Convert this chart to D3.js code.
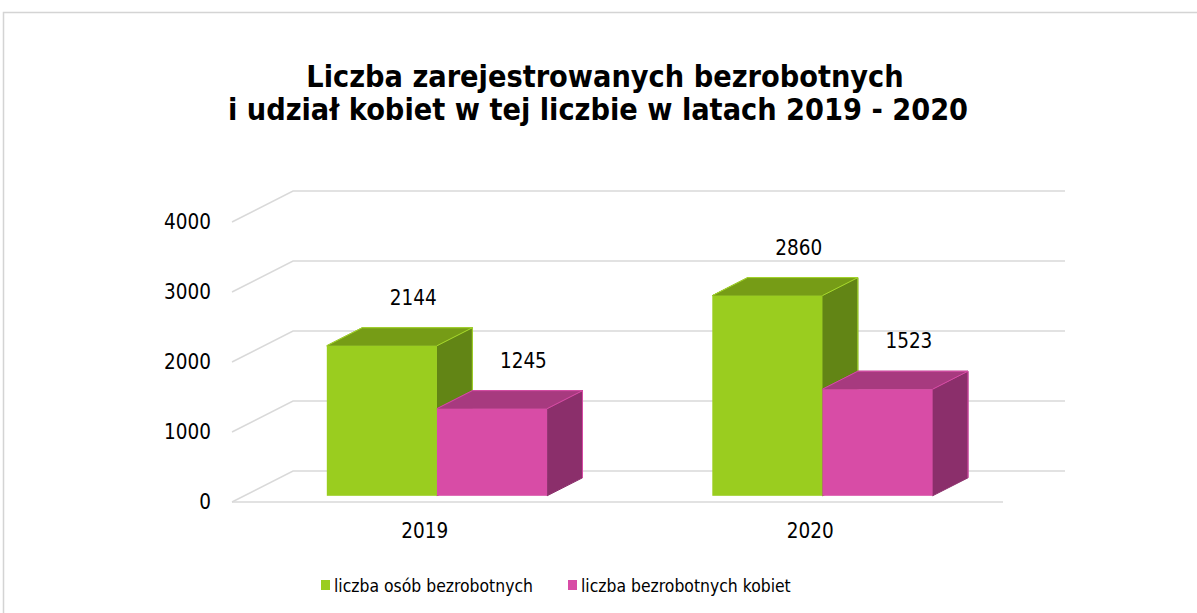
<!DOCTYPE html>
<html>
<head>
<meta charset="utf-8">
<script src="https://cdn.jsdelivr.net/npm/d3@7"></script>
<style>
  body { margin: 0; background: #fff; }
  text { font-family: "DejaVu Sans Condensed", "DejaVu Sans", sans-serif; fill: #000; }
</style>
</head>
<body>
<svg id="chart" width="1197" height="613"></svg>
<script>
// data
var years = ['2019', '2020'];
var seriesNames = ['liczba osób bezrobotnych', 'liczba bezrobotnych kobiet'];
var totalValues = [2144, 2860];
var womenValues = [1245, 1523];
var yTicks = [0, 1000, 2000, 3000, 4000];
var titleLines = ['Liczba zarejestrowanych bezrobotnych', 'i udział kobiet w tej liczbie w latach 2019 - 2020'];

var colors = [
  {front: '#9acd1f', top: '#769c16', side: '#628515', edge: '#a6d82c'},
  {front: '#d84ca6', top: '#a73a7f', side: '#8b2f6b', edge: '#d84ca6'}
];

var svg = d3.select('#chart');

// outer border of the chart area
svg.append('rect')
  .attr('x', 3.5).attr('y', 12.5)
  .attr('width', 1220).attr('height', 640)
  .attr('fill', 'none')
  .attr('stroke', '#d4d4d4')
  .attr('stroke-width', 1.5);

// 3D frame: front floor plane and depth offset
var depthX = 61, depthY = -31;
var x = d3.scaleBand().domain(years).range([232, 1003]);
var x1 = d3.scaleBand().domain(seriesNames).range([0, x.bandwidth()]).paddingOuter(0.75);
var y = d3.scaleLinear().domain([0, 4000]).range([502, 222]);

function pt(px, v, d) {
  return [px + d * depthX, y(v) + d * depthY];
}

// gridlines: diagonal on the left wall + back wall line
var grid = svg.append('g').attr('stroke', '#d9d9d9').attr('stroke-width', 1.5).attr('fill', 'none');
yTicks.forEach(function(t) {
  var a = pt(232, t, 0), b = pt(232, t, 1), c = pt(1065 - depthX, t, 1);
  grid.append('path').attr('d', 'M' + a + 'L' + b + 'L' + c);
});
// front floor edge
grid.append('line')
  .attr('x1', 232).attr('y1', y(0))
  .attr('x2', 1003).attr('y2', y(0));

// y axis labels
svg.append('g').selectAll('text')
  .data(yTicks).enter()
  .append('text')
  .attr('x', 211)
  .attr('y', function(d) { return y(d) + 7; })
  .attr('text-anchor', 'end')
  .style('font-size', '20.5px')
  .text(function(d) { return d; });

// bars
var dFront = 0.2, dBack = 0.78;
var rows = years.map(function(yr, i) {
  return [
    {year: yr, s: 0, value: totalValues[i]},
    {year: yr, s: 1, value: womenValues[i]}
  ];
});

rows.forEach(function(row) {
  row.forEach(function(d) {
    var x0 = x(d.year) + x1(seriesNames[d.s]);
    var w = x1.bandwidth();
    var c = colors[d.s];
    var f0 = pt(x0, 0, dFront), f1 = pt(x0 + w, d.value, dFront);
    var b0 = pt(x0, d.value, dBack), b1 = pt(x0 + w, d.value, dBack), b2 = pt(x0 + w, 0, dBack);
    var g = svg.append('g').attr('stroke-width', 1).attr('stroke-linejoin', 'round');

    // side face
    g.append('path')
      .attr('d', 'M' + [f1[0], f1[1]] + 'L' + b1 + 'L' + b2 + 'L' + [f1[0], f0[1]] + 'Z')
      .attr('fill', c.side).attr('stroke', c.side);
    // top face
    g.append('path')
      .attr('d', 'M' + [f0[0], f1[1]] + 'L' + b0 + 'L' + b1 + 'L' + [f1[0], f1[1]] + 'Z')
      .attr('fill', c.top).attr('stroke', c.top);
    // front face
    g.append('rect')
      .attr('x', f0[0]).attr('y', f1[1])
      .attr('width', w).attr('height', f0[1] - f1[1])
      .attr('fill', c.front);
    // light edges
    g.append('path')
      .attr('d', 'M' + [f0[0], f1[1]] + 'L' + b0 + 'L' + b1 + 'L' + [f1[0], f1[1]] + 'M' + b1 + 'L' + b2)
      .attr('fill', 'none').attr('stroke', c.edge).attr('stroke-width', 1);

    // value label
    svg.append('text')
      .attr('x', (b0[0] + b1[0]) / 2 - 4)
      .attr('y', b0[1] - 23)
      .attr('text-anchor', 'middle')
      .style('font-size', '20.5px')
      .text(d.value);
  });
});

// category labels
svg.append('g').selectAll('text')
  .data(years).enter()
  .append('text')
  .attr('x', function(d) { return x(d) + x.bandwidth() / 2; })
  .attr('y', 538)
  .attr('text-anchor', 'middle')
  .style('font-size', '20.5px')
  .text(function(d) { return d; });

// title
svg.append('g').selectAll('text')
  .data(titleLines).enter()
  .append('text')
  .attr('x', function(d, i) { return i === 0 ? 605 : 598; })
  .attr('y', function(d, i) { return 87 + i * 33; })
  .attr('text-anchor', 'middle')
  .style('font-size', '30.3px')
  .style('font-weight', 'bold')
  .text(function(d) { return d; });

// legend
var legX = [321, 568];
var legend = svg.selectAll('.legend')
  .data(seriesNames).enter()
  .append('g')
  .attr('class', 'legend')
  .attr('transform', function(d, i) { return 'translate(' + legX[i] + ',580)'; });

legend.append('rect')
  .attr('width', 9).attr('height', 10)
  .attr('fill', function(d, i) { return colors[i].front; });

legend.append('text')
  .attr('x', 13).attr('y', 12)
  .style('font-size', '17.4px')
  .text(function(d) { return d; });
</script>
</body>
</html>
